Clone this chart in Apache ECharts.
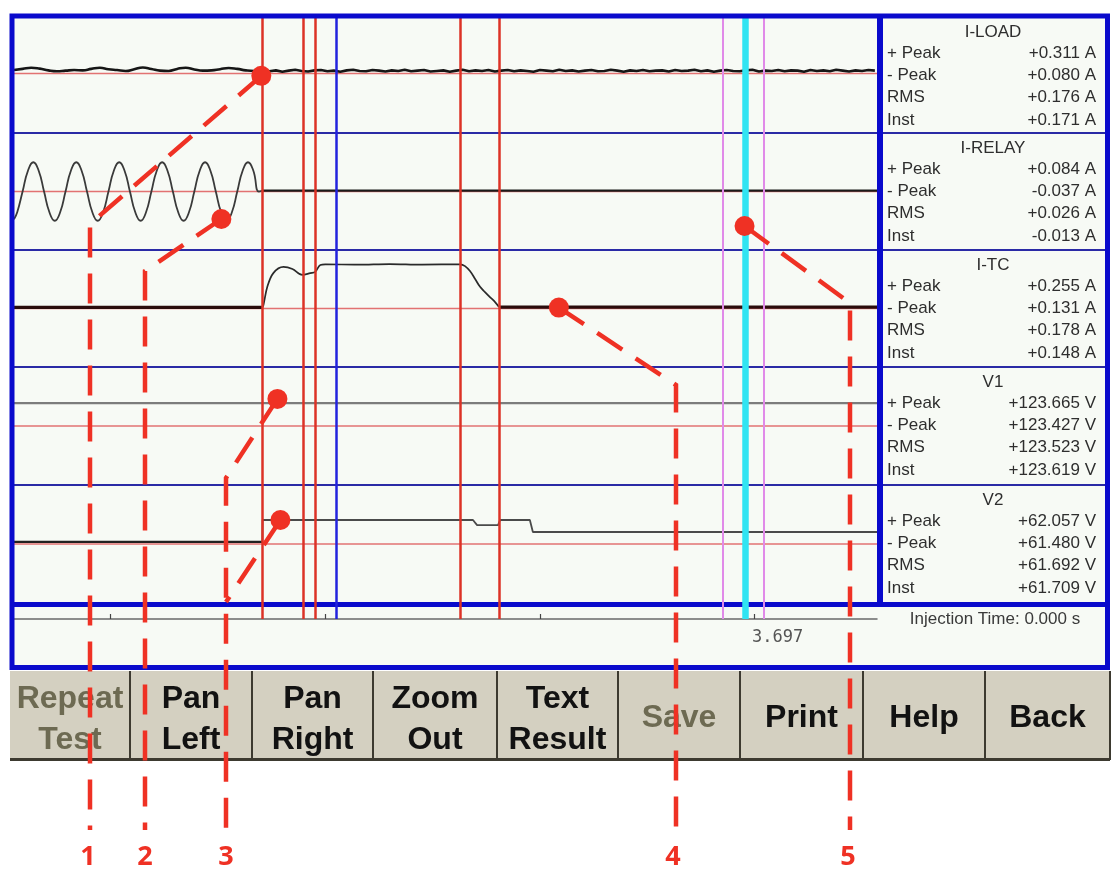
<!DOCTYPE html>
<html><head><meta charset="utf-8">
<script src="https://cdn.jsdelivr.net/npm/echarts@6/dist/echarts.min.js"></script>
<style>html,body{margin:0;padding:0;background:#fff}#c{width:1112px;height:880px}</style>
</head><body><div id="c"></div><script>
// ---------------- DATA ----------------
const X_MIN = -45, X_MAX = 357;           // time window, ms
const timeTicks = [0, 100, 200, 300];      // ms
const channelNames = ['I-LOAD', 'I-RELAY', 'I-TC', 'V1', 'V2'];
const statLabels = ['+ Peak', '- Peak', 'RMS', 'Inst'];
const statValues = [
  ['+0.311 A', '+0.080 A', '+0.176 A', '+0.171 A'],
  ['+0.084 A', '-0.037 A', '+0.026 A', '-0.013 A'],
  ['+0.255 A', '+0.131 A', '+0.178 A', '+0.148 A'],
  ['+123.665 V', '+123.427 V', '+123.523 V', '+123.619 V'],
  ['+62.057 V', '+61.480 V', '+61.692 V', '+61.709 V']
];
const yRanges = [[-0.205, 0.195], [-0.2, 0.2], [-0.2, 0.2], [-320, 320], [-150, 150]];

// I-LOAD (A)
const iLoadPre = [[-45,0.012],[-41,0.016],[-37,0.020],[-33,0.017],[-29,0.011],[-25,0.008],[-21,0.010],[-17,0.012],[-13,0.011],[-9,0.016],[-5,0.020],[-1,0.015],[3,0.012],[7,0.009],[11,0.015],[15,0.021],[19,0.016],[23,0.010],[27,0.009],[31,0.016],[35,0.020],[39,0.014],[43,0.010],[47,0.011],[51,0.015],[55,0.019],[59,0.016],[63,0.011],[67,0.009],[70.7,0.010]];
const iLoadTailStart = 71, iLoadTailStep = 3;
const iLoadTail = [
0.012,0.008,0.011,0.006,0.010,0.013,0.009,0.007,0.011,0.012,0.008,0.010,
0.006,0.011,0.013,0.009,0.008,0.012,0.010,0.007,0.011,0.009,0.013,0.008,
0.010,0.012,0.007,0.009,0.011,0.006,0.010,0.013,0.008,0.011,0.009,0.012,
0.007,0.010,0.012,0.008,0.011,0.009,0.006,0.012,0.010,0.008,0.013,0.009,
0.011,0.007,0.010,0.012,0.008,0.009,0.013,0.010,0.006,0.011,0.009,0.012,
0.008,0.010,0.011,0.007,0.012,0.009,0.010,0.013,0.008,0.011,0.006,0.010,
0.012,0.009,0.008,0.011,0.013,0.007,0.010,0.009,0.012,0.008,0.011,0.010,
0.006,0.012,0.009,0.011,0.008,0.013,0.010,0.007,0.011,0.009,0.012,0.010];

// I-RELAY (A)
const iRelayWave = [[-45,-0.095],[-43.5,-0.071],[-41,0],[-38.5,0.071],[-36,0.1],[-33.5,0.071],[-31,0],[-28.5,-0.071],[-26,-0.1],[-23.5,-0.071],[-21,0],[-18.5,0.071],[-16,0.1],[-13.5,0.071],[-11,0],[-8.5,-0.071],[-6,-0.1],[-3.5,-0.071],[-1,0],[1.5,0.071],[4,0.1],[6.5,0.071],[9,0],[11.5,-0.071],[14,-0.1],[16.5,-0.071],[19,0],[21.5,0.071],[24,0.1],[26.5,0.071],[29,0],[31.5,-0.071],[34,-0.1],[36.5,-0.071],[39,0],[41.5,0.071],[44,0.1],[46.5,0.071],[49,0],[51.5,-0.071],[54,-0.1],[56.5,-0.071],[59,0],[61.5,0.071],[64,0.1],[66.5,0.071],[69,0],[70.7,0.003]];
const iRelayTail = [[70.7,0.003],[357,0.003]];

// I-TC (A)
const iTcPre = [[-45,0.004],[70.7,0.004]];
const iTcPulse = [[70.7,0.004],[71.2,0.012],[73,0.074],[75.8,0.121],[80.5,0.142],[84.7,0.135],[89.3,0.115],[93,0.121],[95.3,0.125],[97.7,0.149],[100,0.151],[115,0.150],[130,0.152],[145,0.150],[162.8,0.151],[165.1,0.145],[167.4,0.128],[169.8,0.101],[172.1,0.074],[174.4,0.056],[176.7,0.039],[179.1,0.022],[180.9,0.005]];
const iTcPost = [[180.9,0.005],[357,0.005]];

// V1 (V)
const v1Trace = [[-45,123.6],[357,123.6]];

// V2 (V)
const v2Pre = [[-45,5.5],[70.7,5.5]];
const v2Post = [[70.7,5.5],[70.8,61],[168.8,61],[170.7,48],[180.5,48],[181.4,61],[195.3,61],[196.7,30.5],[357,30.5]];

// cursors (ms)
const cursorTimes = [70.7, 89.8, 95.3, 105.1, 162.8, 180.9, 285.1, 295.8, 304.2];
const cursorKinds = ['red','red','red','blue','red','red','magenta','cyan','magenta'];
const cursorReadout = '3.697';
const injectionText = 'Injection Time: 0.000 s';

// buttons
const buttonLabels = [['Repeat','Test'],['Pan','Left'],['Pan','Right'],['Zoom','Out'],['Text','Result'],['Save'],['Print'],['Help'],['Back']];
const buttonEnabled = [false,true,true,true,true,false,true,true,true];

// annotation callouts: point in a channel (row, time ms, value)
const annotationPoints = [
  {label:'1', row:0, t:70.2, v:-0.008},
  {label:'2', row:1, t:51.6, v:-0.094},
  {label:'3', row:3, t:77.7, v:147},
  {label:'3', row:4, t:79.1, v:61},
  {label:'4', row:2, t:208.8, v:0.003},
  {label:'5', row:1, t:295.3, v:-0.118}
];

// ---------------- LAYOUT / STYLE ----------------
const PLOT_LEFT = 14, PLOT_RIGHT = 877;
const rowTops = [17, 133, 250, 367, 485, 603];
const BLUE = '#0a0acc';
const ANN = '#ef3124';
const cursorStyle = {
  red: {color:'#dc3226', width:2.5},
  blue: {color:'#2222dd', width:2.5},
  magenta: {color:'#e08ae8', width:2},
  cyan: {color:'#30e4f2', width:6.5}
};
const annLayout = [
  {elbow:[90,224], end:830, labelX:88},
  {elbow:[145,271], end:830, labelX:145},
  {elbow:[226,478], end:830, labelX:226},
  {elbow:[226,602], end:null},
  {elbow:[676,385], end:830, labelX:673},
  {elbow:[850,303], end:830, labelX:848}
];

const chart = echarts.init(document.getElementById('c'), null, {renderer:'canvas'});

const grids = [], xAxes = [], yAxes = [];
for (let r = 0; r < 5; r++) {
  grids.push({left: PLOT_LEFT, width: PLOT_RIGHT - PLOT_LEFT, top: rowTops[r], height: rowTops[r+1] - rowTops[r]});
  xAxes.push({type:'value', gridIndex:r, min:X_MIN, max:X_MAX, show:false});
  yAxes.push({type:'value', gridIndex:r, min:yRanges[r][0], max:yRanges[r][1], show:false});
}
// overlay grid for cursors
grids.push({left: PLOT_LEFT, width: PLOT_RIGHT - PLOT_LEFT, top: 17, height: 602});
xAxes.push({type:'value', gridIndex:5, min:X_MIN, max:X_MAX, show:false});
yAxes.push({type:'value', gridIndex:5, min:0, max:1, show:false});
// time strip
grids.push({left: PLOT_LEFT, width: PLOT_RIGHT - PLOT_LEFT, top: 607, height: 12});
xAxes.push({type:'value', gridIndex:6, min:X_MIN, max:X_MAX, show:true, position:'bottom',
  axisLine:{show:true, lineStyle:{color:'#6a6a6a', width:1.5}},
  axisTick:{show:true, inside:true, length:5, customValues: timeTicks, lineStyle:{color:'#444', width:1.2}},
  axisLabel:{show:false}, splitLine:{show:false}});
yAxes.push({type:'value', gridIndex:6, min:0, max:1, show:false});

function lineS(r, data, color, width, smooth, z) {
  return {type:'line', xAxisIndex:r, yAxisIndex:r, data:data, symbol:'none', silent:true,
    smooth: smooth || false, lineStyle:{color:color, width:width}, z: z || 3};
}
const series = [];
for (let r = 0; r < 5; r++) {
  series.push(lineS(r, [[X_MIN,0],[X_MAX,0]], '#e27272', 1.5, false, 2));
}
series.push(lineS(0, iLoadPre, '#161616', 2.6, 0.5));
series.push(lineS(0, iLoadTail.map((v,i)=>[iLoadTailStart + i*iLoadTailStep, v]), '#161616', 2.6));
series.push(lineS(1, iRelayWave, '#3a3a3a', 1.8, true));
series.push(lineS(1, iRelayTail, '#1a1a1a', 2.4));
series.push(lineS(2, iTcPre, '#2a0c0c', 3.2));
series.push(lineS(2, iTcPulse, '#2a2a2a', 1.7, 0.35));
series.push(lineS(2, iTcPost, '#2a0c0c', 3.2));
series.push(lineS(3, v1Trace, '#7c7c7c', 2.2));
series.push(lineS(4, v2Pre, '#222', 2.4));
series.push(lineS(4, v2Post, '#4a4a4a', 1.8));
// cursors
series.push({type:'line', xAxisIndex:5, yAxisIndex:5, data:[[X_MIN,0]], symbol:'none', silent:true,
  lineStyle:{opacity:0}, z:5,
  markLine:{silent:true, symbol:['none','none'], label:{show:false}, animation:false,
    data: cursorTimes.map((t,i)=>({xAxis:t, lineStyle:{color:cursorStyle[cursorKinds[i]].color, width:cursorStyle[cursorKinds[i]].width, type:'solid'}}))}
});

// graphics
const g = [];
g.push({type:'rect', silent:true, z:0, shape:{x:10,y:15,width:1100,height:654}, style:{fill:'#f7faf5'}});
[133,250,367,485].forEach(y=>g.push({type:'line', silent:true, z:1, shape:{x1:12,y1:y,x2:1108,y2:y}, style:{stroke:'#2a2aa6', lineWidth:2}}));
g.push({type:'line', silent:true, z:1, shape:{x1:10,y1:604.5,x2:1110,y2:604.5}, style:{stroke:BLUE, lineWidth:5}});
g.push({type:'line', silent:true, z:10, shape:{x1:880,y1:15,x2:880,y2:604}, style:{stroke:BLUE, lineWidth:6}});
g.push({type:'rect', silent:true, z:10, shape:{x:12,y:16,width:1095.5,height:651.5}, style:{fill:'none', stroke:BLUE, lineWidth:5}});

function txt(text, x, y, font, fill, align, z) {
  return {type:'text', silent:true, z: z || 12, style:{text:text, x:x, y:y, font:font, fill:fill,
    align:align||'left', textAlign:align||'left', verticalAlign:'middle', textVerticalAlign:'middle'}};
}
const PANEL_FONT = '17px "Liberation Sans", Arial, sans-serif';
for (let r = 0; r < 5; r++) {
  const top = rowTops[r];
  g.push(txt(channelNames[r], 993, top + 15, PANEL_FONT, '#2e2e2e', 'center'));
  for (let k = 0; k < 4; k++) {
    const y = top + 36 + k * 22.3;
    g.push(txt(statLabels[k], 887, y, PANEL_FONT, '#2e2e2e', 'left'));
    g.push(txt(statValues[r][k], 1096, y, PANEL_FONT, '#2e2e2e', 'right'));
  }
}
g.push(txt(injectionText, 995, 619, PANEL_FONT, '#3a3a3a', 'center'));
g.push(txt(cursorReadout, 752, 638, '17px "DejaVu Sans Mono", monospace', '#555', 'left'));

// buttons
const btnEdges = [10,130,252,373,497,618,740,863,985,1110];
g.push({type:'rect', silent:true, z:0, shape:{x:10,y:671,width:1100,height:89}, style:{fill:'#d4d0c1'}});
for (let i = 1; i < btnEdges.length; i++) {
  g.push({type:'line', silent:true, z:2, shape:{x1:btnEdges[i],y1:671,x2:btnEdges[i],y2:760}, style:{stroke:'#3d3a30', lineWidth:2}});
}
g.push({type:'line', silent:true, z:2, shape:{x1:10,y1:759.5,x2:1110,y2:759.5}, style:{stroke:'#3d3a30', lineWidth:3}});
const BTN_FONT = 'bold 32px "Liberation Sans", Arial, sans-serif';
buttonLabels.forEach((lines, i) => {
  const cx = (btnEdges[i] + btnEdges[i+1]) / 2;
  const col = buttonEnabled[i] ? '#121212' : '#6d6a52';
  if (lines.length === 2) {
    g.push(txt(lines[0], cx, 699, BTN_FONT, col, 'center'));
    g.push(txt(lines[1], cx, 740, BTN_FONT, col, 'center'));
  } else {
    g.push(txt(lines[0], cx, 718, BTN_FONT, col, 'center'));
  }
});

chart.setOption({animation:false, backgroundColor:'#ffffff', grid:grids, xAxis:xAxes, yAxis:yAxes, series:series, graphic:g});

// annotation callouts (positions of points come from the chart's own scales)
const ann = [];
annotationPoints.forEach((a, i) => {
  const p = chart.convertToPixel({xAxisIndex:a.row, yAxisIndex:a.row}, [a.t, a.v]);
  const L = annLayout[i];
  const pts = [p, L.elbow];
  if (L.end !== null) pts.push([L.elbow[0], L.end]);
  ann.push({type:'polyline', silent:true, z:20, shape:{points:pts}, style:{fill:'none', stroke:ANN, lineWidth:4.5, lineDash:[30,16]}});
  ann.push({type:'circle', silent:true, z:21, shape:{cx:p[0], cy:p[1], r:10}, style:{fill:ANN}});
  if (L.end !== null) ann.push(txt(a.label, L.labelX, 857, 'bold 27px "Open Sans", "Noto Sans", sans-serif', ANN, 'center', 21));
});
chart.setOption({graphic: g.concat(ann)});
</script></body></html>
